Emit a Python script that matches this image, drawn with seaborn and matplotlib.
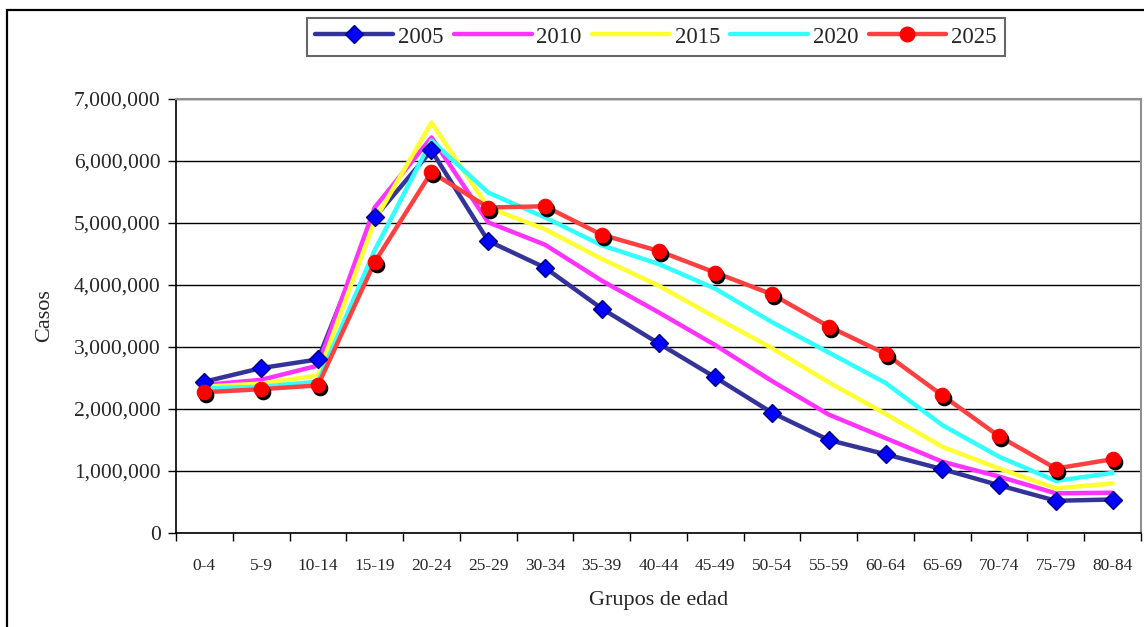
import numpy as np
import pandas as pd
import matplotlib
matplotlib.use("Agg")
import matplotlib.pyplot as plt
import matplotlib.transforms as mtransforms
from matplotlib.lines import Line2D
from matplotlib.patches import Rectangle
from matplotlib.ticker import FuncFormatter, FixedLocator
import seaborn as sns

# Age groups and projected cases per year (in millions)
grupos = ['0-4', '5-9', '10-14', '15-19', '20-24', '25-29', '30-34', '35-39',
          '40-44', '45-49', '50-54', '55-59', '60-64', '65-69', '70-74',
          '75-79', '80-84']
anios = ['2005', '2010', '2015', '2020', '2025']
casos_2005 = [2.44, 2.66, 2.80, 5.09, 6.17, 4.71, 4.28, 3.62, 3.06, 2.51,
              1.94, 1.50, 1.27, 1.03, 0.77, 0.52, 0.54]
casos_2010 = [2.39, 2.47, 2.70, 5.25, 6.38, 5.01, 4.65, 4.07, 3.56, 3.03,
              2.45, 1.91, 1.53, 1.15, 0.91, 0.64, 0.65]
casos_2015 = [2.36, 2.41, 2.54, 5.04, 6.62, 5.25, 4.90, 4.42, 3.99, 3.48,
              2.98, 2.43, 1.92, 1.39, 1.04, 0.72, 0.80]
casos_2020 = [2.33, 2.36, 2.44, 4.56, 6.33, 5.49, 5.09, 4.64, 4.34, 3.94,
              3.40, 2.91, 2.42, 1.74, 1.23, 0.84, 0.97]
casos_2025 = [2.27, 2.32, 2.38, 4.37, 5.82, 5.25, 5.27, 4.81, 4.55, 4.20,
              3.85, 3.33, 2.89, 2.22, 1.56, 1.04, 1.19]

series = dict(zip(anios, [casos_2005, casos_2010, casos_2015, casos_2020, casos_2025]))
pos = np.arange(len(grupos))
df = pd.DataFrame({'pos': np.tile(pos, len(anios)),
                   'anio': np.repeat(anios, len(grupos)),
                   'casos': np.concatenate([np.array(series[a]) * 1e6 for a in anios])})

colores = {'2005': '#333399', '2010': '#FF33FF', '2015': '#FFFF33',
           '2020': '#33FFFF', '2025': '#FF4040'}

sns.set_style('white')
plt.rcParams['font.family'] = ['Liberation Serif', 'DejaVu Serif']

fig = plt.figure(figsize=(11.44, 6.27), dpi=100)
ax = fig.add_axes([176 / 1144, 1 - 533 / 627, (1141 - 176) / 1144, (533 - 99) / 627])

# Outer chart frame
fig.patches.append(Rectangle((7 / 1144, -0.05), 1.2, 1 - 10 / 627 + 0.05,
                             transform=fig.transFigure, fill=False,
                             edgecolor='black', linewidth=1.6, zorder=0))

# Lines, drawn in series order
for a in anios:
    sub = df[df['anio'] == a]
    sns.lineplot(data=sub, x='pos', y='casos', ax=ax, color=colores[a],
                 lw=3.2, sort=False, zorder=2, legend=False)

# Markers above all lines
d05 = df[df['anio'] == '2005']
sns.lineplot(data=d05, x='pos', y='casos', ax=ax, lw=0, marker='D',
             markersize=9.5, markerfacecolor='#0000FF', markeredgecolor='#000080',
             markeredgewidth=1.0, sort=False, zorder=4, legend=False)
d25 = df[df['anio'] == '2025']
sombra = ax.transData + mtransforms.ScaledTranslation(2 / 100, -3 / 100, fig.dpi_scale_trans)
sns.lineplot(data=d25, x='pos', y='casos', ax=ax, lw=0, marker='o',
             markersize=10.5, markerfacecolor='black', markeredgecolor='black',
             sort=False, zorder=4.5, legend=False, transform=sombra)
sns.lineplot(data=d25, x='pos', y='casos', ax=ax, lw=0, marker='o',
             markersize=10.5, markerfacecolor='#FF0000', markeredgecolor='#FF0000',
             sort=False, zorder=5, legend=False)

# Axes styling
ax.set_xlim(-0.5, len(grupos) - 0.5)
ax.set_ylim(0, 7e6)
ax.set_yticks(np.arange(0, 7.01e6, 1e6))
ax.yaxis.set_major_formatter(FuncFormatter(lambda v, p: f'{int(round(v)):,}'))
ax.yaxis.grid(True, color='black', linewidth=1.0)
ax.set_axisbelow(True)
ax.set_xticks(pos)
ax.set_xticklabels(grupos, fontsize=12.5)
ax.xaxis.set_minor_locator(FixedLocator(np.arange(-0.5, len(grupos), 1.0)))
ax.tick_params(axis='x', which='major', length=0, pad=18)
ax.tick_params(axis='x', which='minor', length=6, width=1, color='black', direction='out', bottom=True)
ax.tick_params(axis='y', which='major', length=6, width=1, color='black', direction='out',
               labelsize=15.5, pad=5, left=True)
for s in ['left', 'bottom']:
    ax.spines[s].set_color('black')
    ax.spines[s].set_linewidth(1.2)
for s in ['top', 'right']:
    ax.spines[s].set_color('#909090')
    ax.spines[s].set_linewidth(1.5)

ax.set_xlabel('Grupos de edad', fontsize=16, labelpad=12)
ax.set_ylabel('Casos', fontsize=16, labelpad=14)

# Legend
handles = []
for a in anios:
    kw = dict(color=colores[a], lw=3.2)
    if a == '2005':
        kw.update(marker='D', markersize=9.5, markerfacecolor='#0000FF', markeredgecolor='#000080')
    elif a == '2025':
        kw.update(marker='o', markersize=10.5, markerfacecolor='#FF0000', markeredgecolor='#FF0000')
    handles.append(Line2D([], [], **kw))
leg = fig.legend(handles, anios, loc='center', ncol=5,
                 bbox_to_anchor=(656 / 1144, 1 - 37 / 627), fontsize=16.5,
                 frameon=True, fancybox=False, handlelength=3.4, handletextpad=0.2,
                 columnspacing=0.45, borderpad=0.35, borderaxespad=0)
leg.get_frame().set_edgecolor('#404040')
leg.get_frame().set_linewidth(1.5)

fig.savefig('out.png', dpi=100)
